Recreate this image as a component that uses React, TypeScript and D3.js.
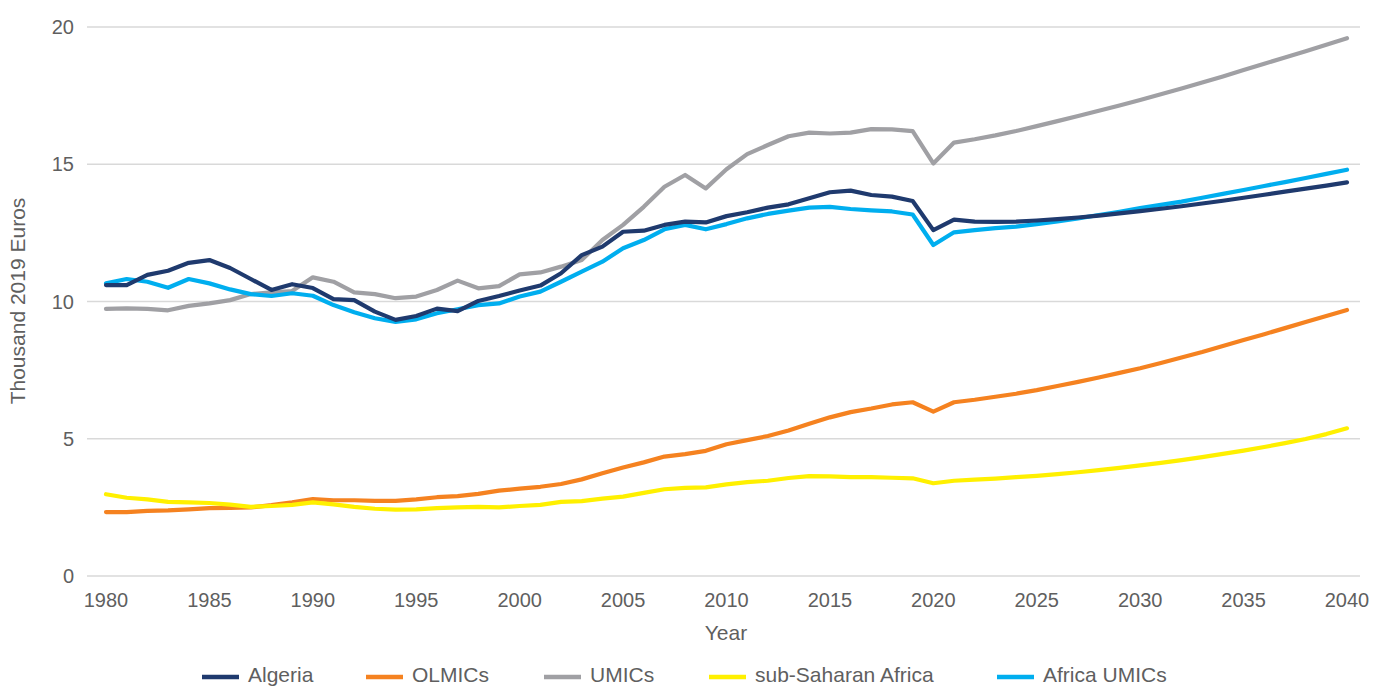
import * as d3 from 'd3'

const years = d3.range(1980, 2041)

const algeria = [
  10.6, 10.6, 10.97, 11.12, 11.41, 11.51, 11.22, 10.82, 10.42, 10.63,
  10.49, 10.09, 10.05, 9.63, 9.33, 9.47, 9.74, 9.65, 10.02, 10.2,
  10.4, 10.58, 11.03, 11.69, 12.0, 12.54, 12.58, 12.79, 12.91, 12.88,
  13.11, 13.25, 13.42, 13.54, 13.76, 13.98, 14.04, 13.88, 13.82, 13.66,
  12.6, 12.98, 12.91, 12.9, 12.91, 12.95, 13.0, 13.06, 13.13, 13.21,
  13.29, 13.38, 13.47, 13.57, 13.67, 13.78, 13.89, 14.0, 14.11, 14.22,
  14.34,
]

const olmics = [
  2.33, 2.33, 2.37, 2.39, 2.43, 2.47, 2.48, 2.5, 2.58, 2.68,
  2.8, 2.76, 2.76, 2.74, 2.74, 2.79, 2.87, 2.91, 2.99, 3.11,
  3.18, 3.25, 3.35, 3.52, 3.74, 3.95, 4.14, 4.35, 4.44, 4.56,
  4.8, 4.95, 5.1, 5.3, 5.55, 5.78, 5.97, 6.1, 6.25, 6.33,
  5.99, 6.33, 6.42, 6.53, 6.64, 6.77, 6.92, 7.07, 7.23, 7.4,
  7.57, 7.76, 7.96, 8.16, 8.38, 8.6, 8.81, 9.03, 9.25, 9.47,
  9.69,
]

const umics = [
  9.73, 9.75, 9.73, 9.68, 9.84, 9.93, 10.05, 10.27, 10.33, 10.38,
  10.88, 10.72, 10.33, 10.27, 10.12, 10.18, 10.42, 10.76, 10.48, 10.56,
  10.99, 11.06, 11.27, 11.51, 12.24, 12.79, 13.45, 14.18, 14.61, 14.12,
  14.82, 15.37, 15.7, 16.02, 16.15, 16.12, 16.15, 16.28, 16.27, 16.21,
  15.03, 15.79, 15.91, 16.05, 16.21, 16.39, 16.57, 16.76, 16.95, 17.14,
  17.34, 17.55, 17.76, 17.98, 18.2, 18.43, 18.66, 18.89, 19.12, 19.35,
  19.59,
]

const subSaharan = [
  2.98, 2.85, 2.79, 2.7, 2.68, 2.66, 2.6, 2.52, 2.55, 2.59,
  2.68, 2.61, 2.52, 2.45, 2.42, 2.43, 2.47, 2.5, 2.52, 2.5,
  2.55, 2.59, 2.7, 2.73, 2.82, 2.89, 3.03, 3.16, 3.21, 3.23,
  3.34, 3.42, 3.47, 3.57, 3.64, 3.63, 3.6, 3.6, 3.58, 3.56,
  3.38, 3.47, 3.51, 3.55, 3.6, 3.65, 3.71, 3.78, 3.86, 3.94,
  4.03, 4.12, 4.22, 4.33, 4.45, 4.57, 4.7, 4.84, 4.99, 5.17,
  5.38,
]

const africaUmics = [
  10.66, 10.82, 10.72, 10.5, 10.82, 10.66, 10.44, 10.27, 10.2, 10.3,
  10.21, 9.87, 9.61, 9.39, 9.26, 9.35, 9.57, 9.72, 9.87, 9.93,
  10.18, 10.36, 10.72, 11.09, 11.45, 11.94, 12.24, 12.63, 12.79, 12.63,
  12.82, 13.03, 13.19, 13.31, 13.42, 13.45, 13.37, 13.32, 13.28, 13.17,
  12.06, 12.52, 12.6, 12.67, 12.73, 12.82, 12.92, 13.03, 13.15, 13.27,
  13.4, 13.52, 13.64, 13.78, 13.92, 14.06, 14.21, 14.35, 14.5, 14.65,
  14.8,
]

const xTicks = [1980, 1985, 1990, 1995, 2000, 2005, 2010, 2015, 2020, 2025, 2030, 2035, 2040]
const yTicks = [0, 5, 10, 15, 20]

// legend order
const series = [
  { name: 'Algeria', values: algeria, color: '#1f3a6e' },
  { name: 'OLMICs', values: olmics, color: '#f58220' },
  { name: 'UMICs', values: umics, color: '#a0a0a4' },
  { name: 'sub-Saharan Africa', values: subSaharan, color: '#fff000' },
  { name: 'Africa UMICs', values: africaUmics, color: '#00aeef' },
]
// paint order (Algeria on top)
const drawOrder = ['UMICs', 'OLMICs', 'sub-Saharan Africa', 'Africa UMICs', 'Algeria']

const legendX = [202, 366, 544, 709, 997]

const W = 1373
const H = 687
const font = '"Liberation Sans", Arial, Helvetica, sans-serif'
const textColor = '#5f5f5f'

export default function App() {
  const x = d3.scaleLinear().domain([1980, 2040]).range([106, 1347])
  const y = d3.scaleLinear().domain([0, 20]).range([576, 27])
  const line = d3
    .line<number>()
    .x((_, i) => x(years[i]))
    .y((d) => y(d))

  const gridLeft = 87
  const gridRight = 1360

  return (
    <svg
      width={W}
      height={H}
      style={{ display: 'block', position: 'absolute', left: 0, top: 0, background: '#fff' }}
      fontFamily={font}
    >
      {yTicks.map((t) => (
        <g key={t}>
          <line x1={gridLeft} x2={gridRight} y1={y(t)} y2={y(t)} stroke="#d9d9d9" strokeWidth={1.3} />
          <text x={74} y={y(t)} dy="0.35em" textAnchor="end" fontSize={20} fill={textColor}>
            {t}
          </text>
        </g>
      ))}

      {xTicks.map((t) => (
        <text key={t} x={x(t)} y={607} textAnchor="middle" fontSize={20} fill={textColor}>
          {t}
        </text>
      ))}

      <text x={726} y={640} textAnchor="middle" fontSize={21} fill={textColor}>
        Year
      </text>
      <text
        transform={`translate(25,301) rotate(-90)`}
        textAnchor="middle"
        fontSize={21}
        fill={textColor}
      >
        Thousand 2019 Euros
      </text>

      {drawOrder.map((name) => {
        const s = series.find((d) => d.name === name)!
        return (
          <path
            key={name}
            d={line(s.values) ?? ''}
            fill="none"
            stroke={s.color}
            strokeWidth={4.2}
            strokeLinejoin="round"
            strokeLinecap="round"
          />
        )
      })}

      {series.map((s, i) => (
        <g key={s.name} transform={`translate(${legendX[i]},677)`}>
          <line x1={0} x2={37} y1={0} y2={0} stroke={s.color} strokeWidth={4.5} />
          <text x={46} y={5} fontSize={21} fill={textColor}>
            {s.name}
          </text>
        </g>
      ))}
    </svg>
  )
}
